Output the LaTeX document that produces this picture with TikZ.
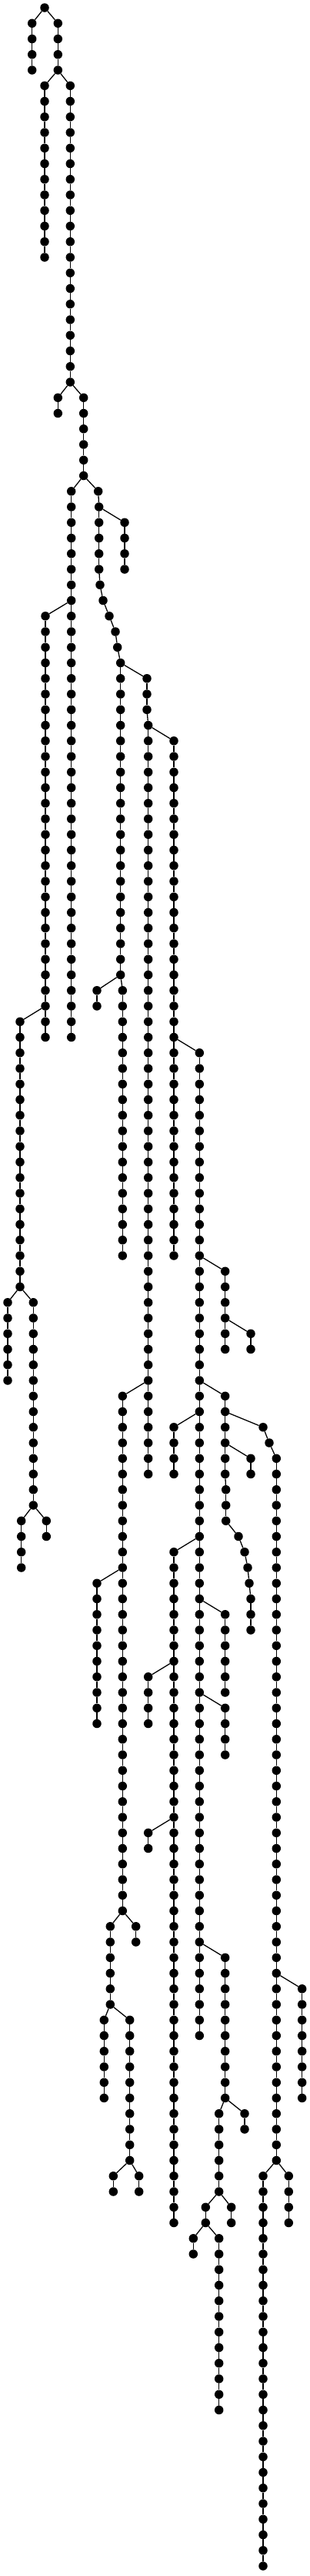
\documentclass[tikz,border=0pt]{standalone}
\tikzset{
  dot/.style={circle,fill=black,draw=none,minimum size=11.5pt,inner sep=0pt},
  edge/.style={line width=1.3pt,black}
}
% nodes only: name, x, first level, last level
\newcommand\mknodes[4]{\foreach \k in {#3,...,#4}{\node[dot] (#1-\k) at (#2,\k) {};}}
% nodes at level/x pairs
\newcommand\mkpath[2]{\foreach \k/\xx in {#2}{\node[dot] (#1-\k) at (\xx,\k) {};}}
% consecutive edges of a chain
\newcommand\mkedges[3]{\ifnum#3>#2\relax\pgfmathtruncatemacro\mkstart{#2+1}\foreach \k in {\mkstart,...,#3}{\pgfmathtruncatemacro\mkprev{\k-1}\draw[edge] (#1-\mkprev) -- (#1-\k);}\fi}
\newcommand\mkchain[4]{\mknodes{#1}{#2}{#3}{#4}\mkedges{#1}{#3}{#4}}
\newcommand\lk[2]{\draw[edge] (#1) -- (#2);}
\begin{document}
\begin{tikzpicture}[x=1pt,y=-20.25pt]
\useasboundingbox (0,-0.49383) rectangle (403,164.642);
\node[dot] (root) at (58,0) {};
\mkchain{A}{41.7}{1}{4}
\mkchain{B}{75.3}{1}{4}
\lk{root}{A-1}\lk{root}{B-1}
\mkchain{C}{58}{5}{16}\lk{B-4}{C-5}
\mkchain{D}{91.3}{5}{24}\lk{B-4}{D-5}
\mkchain{E}{75.3}{25}{26}\lk{D-24}{E-25}
\mkchain{F}{108.7}{25}{30}\lk{D-24}{F-25}
\mkchain{G}{92.7}{31}{66}\lk{F-30}{G-31}
\mkpath{I}{31/127.7,32/128.7,33/128.7,34/128.7,35/128.7,36/128.7,37/130,38/134,39/142,40/150,41/152.7,42/156.7}
\mkedges{I}{31}{42}\lk{F-30}{I-31}
\mkchain{J}{162}{33}{36}\lk{I-32}{J-33}
\mkchain{H}{59}{39}{66}\lk{G-38}{H-39}
\mkchain{K}{156.7}{43}{62}\lk{I-42}{K-43}
\mkchain{Kp}{159.3}{63}{80}\lk{K-62}{Kp-63}
\mkchain{P}{126}{63}{64}\lk{K-62}{P-63}
\mkpath{L}{43/191,44/191,45/191,46/192.7}
\mkedges{L}{43}{46}\lk{I-42}{L-43}
\mkchain{M}{192.7}{47}{94}\lk{L-46}{M-47}
\mkchain{N}{226}{47}{80}\lk{L-46}{N-47}
\mkchain{O}{26}{65}{82}\lk{H-64}{O-65}
\mkchain{Q}{259.3}{67}{130}\lk{N-66}{Q-67}
\mkchain{R}{10}{83}{88}\lk{O-82}{R-83}
\mkchain{S}{43.3}{83}{96}\lk{O-82}{S-83}
\mkchain{T}{27.7}{97}{100}\lk{S-96}{T-97}
\mkchain{U}{60.3}{97}{98}\lk{S-96}{U-97}
\mkchain{X}{292.7}{81}{86}\lk{Q-80}{X-81}
\mkchain{Y}{326}{85}{86}\lk{X-84}{Y-85}
\mkchain{V}{159.3}{89}{122}\lk{M-88}{V-89}
\mknodes{Z}{292.7}{89}{94}
\mknodes{Z}{293.7}{95}{97}
\mkpath{Z}{98/310,99/318,100/322,101/324}
\mknodes{Z}{326}{102}{104}
\mkedges{Z}{89}{104}\lk{Q-88}{Z-89}
\mkpath{AA}{91/342,92/350}
\mknodes{AA}{359.3}{93}{138}
\mkedges{AA}{91}{138}\lk{Z-90}{AA-91}
\mkchain{AB}{326}{93}{94}\lk{Z-92}{AB-93}
\mkchain{AC}{226}{91}{94}\lk{Q-90}{AC-91}
\mkchain{AD}{226}{99}{142}\lk{Q-98}{AD-99}
\mkchain{W}{126}{101}{110}\lk{V-100}{W-101}
\mkchain{AF}{292.7}{103}{108}\lk{Q-102}{AF-103}
\mkchain{AE}{192.7}{107}{110}\lk{AD-106}{AE-107}
\mkchain{AL}{292.7}{109}{112}\lk{Q-108}{AL-109}
\mkchain{AK}{192.7}{117}{118}\lk{AD-116}{AK-117}
\mkchain{AG}{143.3}{123}{128}\lk{V-122}{AG-123}
\mkchain{AJ}{176.7}{123}{124}\lk{V-122}{AJ-123}
\mkchain{AM}{292.7}{125}{134}\lk{Q-124}{AM-125}
\mkchain{AN}{392.7}{127}{134}\lk{AA-126}{AN-127}
\mkchain{AH}{135.3}{129}{134}\lk{AG-128}{AH-129}
\mkchain{AI}{168.7}{129}{138}\lk{AG-128}{AI-129}
\mkchain{AQ}{284.7}{135}{140}\lk{AM-134}{AQ-135}
\mkchain{AV}{318}{135}{136}\lk{AM-134}{AV-135}
\mkchain{AO}{147.3}{139}{140}\lk{AI-138}{AO-139}
\mkchain{AP}{180.7}{139}{140}\lk{AI-138}{AP-139}
\mkchain{AW}{342}{139}{164}\lk{AA-138}{AW-139}
\mkchain{AX}{375.3}{139}{142}\lk{AA-138}{AX-139}
\mkchain{AR}{267.3}{141}{142}\lk{AQ-140}{AR-141}
\mkchain{AU}{300.7}{141}{142}\lk{AQ-140}{AU-141}
\mkchain{AS}{251.3}{143}{144}\lk{AR-142}{AS-143}
\mkchain{AT}{284.7}{143}{154}\lk{AR-142}{AT-143}
\end{tikzpicture}
\end{document}
